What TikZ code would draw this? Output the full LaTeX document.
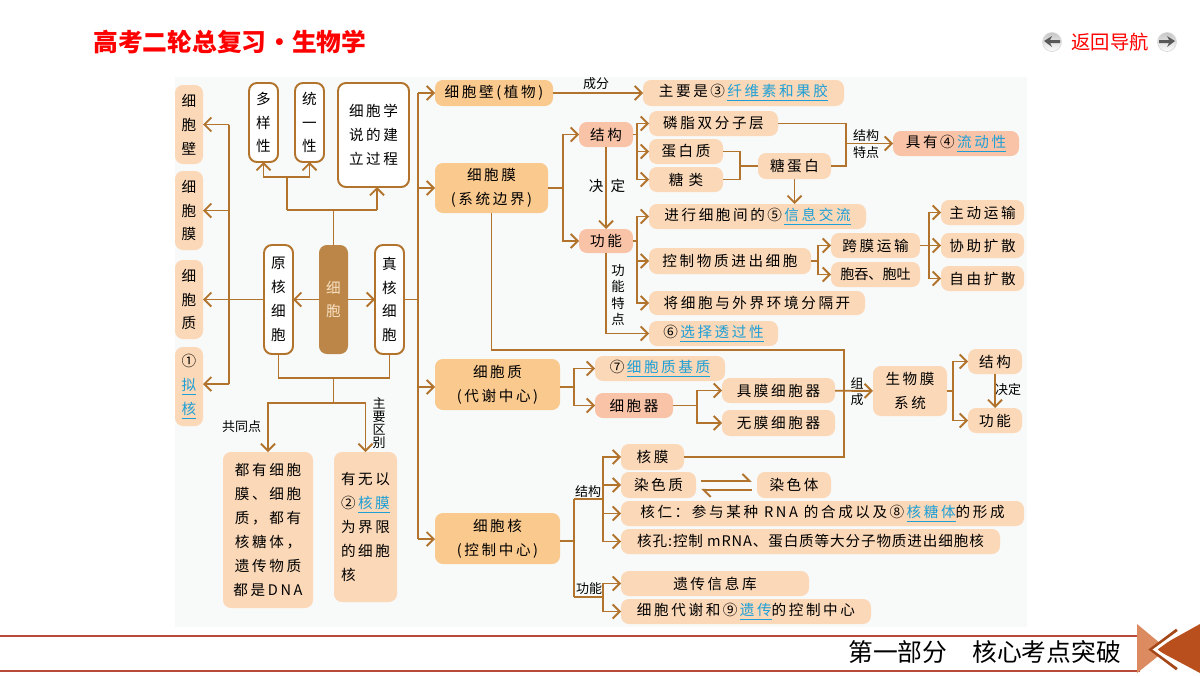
\documentclass[tikz,border=0pt]{standalone}
\usepackage{fontspec}
\usepackage{xcolor}
\setmainfont[LetterSpace=18]{Noto Sans CJK SC}
\newfontfamily\tightfont[LetterSpace=6]{Noto Sans CJK SC}
\newfontfamily\labelfont{Noto Sans CJK SC}
\usetikzlibrary{arrows.meta,positioning}
\definecolor{pagetint}{HTML}{F8FAFA}
\definecolor{linebrown}{HTML}{B2742C}
\definecolor{palepeach}{HTML}{FAD8B8}
\definecolor{midpeach}{HTML}{FAC98E}
\definecolor{salmon}{HTML}{F9C3A8}
\definecolor{cellbrown}{HTML}{BC8648}
\definecolor{celltext}{HTML}{F7E0C2}
\definecolor{ansblue}{HTML}{1E9FD6}
\definecolor{framered}{HTML}{B84A3A}
\definecolor{lightwedge}{HTML}{DC8A60}
\definecolor{darkwedge}{HTML}{B84F1C}
\newcommand{\ans}[1]{\textcolor{ansblue}{\underline{#1}}}
\tikzset{
  sz/.style 2 args={minimum width=#1*0.02cm,minimum height=#2*0.02cm},
  box node/.style={rectangle,rounded corners=4.5pt,inner sep=0pt,outer sep=0pt,align=center,
    font=\fontsize{8.3pt}{13.6pt}\selectfont},
  pale node/.style={box node,fill=palepeach},
  mid node/.style={box node,fill=midpeach},
  hot node/.style={box node,fill=salmon},
  white node/.style={box node,fill=white,draw=linebrown,line width=1.1pt},
  label node/.style={inner sep=0pt,align=center,font=\labelfont\fontsize{7.4pt}{9pt}\selectfont},
  stack node/.style={inner sep=0pt,align=center,font=\labelfont\setlength{\lineskiplimit}{-5pt}\fontsize{7.4pt}{7.3pt}\selectfont},
  nav button/.style={circle,minimum size=0.38cm,inner sep=0pt,draw=gray!30,top color=gray!45,bottom color=white},
  link/.style={draw=linebrown,line width=1.1pt},
  link arrow/.style={link,->},
}
\begin{document}
\begin{tikzpicture}[x=0.02cm,y=-0.02cm,>={Straight Barb[length=4pt,width=8pt]}]
          \useasboundingbox (0,0) rectangle (1200,676);
          \fill[pagetint] (175,77) rectangle (1027,627);
          \node[anchor=west,inner sep=0pt,text=red,font=\labelfont\bfseries\fontsize{14.1pt}{16pt}\selectfont] at (93,42) (title) {高考二轮总复习\makebox[14.4pt]{•}生物学};
          \node[inner sep=0pt,text=red,font=\labelfont\fontsize{11pt}{13pt}\selectfont] at (1110,42) (nav) {返回导航};
          \node[nav button] at (1052,42) (back) {};
          \node[nav button] at (1167,42) (forward) {};
          \fill[black!65] (1044,41) -- (1052,36) -- (1050,40) -- (1060,40) -- (1060,43) -- (1050,43) -- (1052,47) -- cycle;
          \fill[black!65] (1175,41) -- (1167,36) -- (1169,40) -- (1159,40) -- (1159,43) -- (1169,43) -- (1167,47) -- cycle;
          \draw[framered,line width=1.1pt] (0,636) -- (1140,636);
          \draw[framered,line width=1.1pt] (0,671) -- (1140,671);
          \node[anchor=west,inner sep=0pt,font=\labelfont\fontsize{14.1pt}{16pt}\selectfont] at (848,652) (part) {第一部分　核心考点突破};
          \fill[lightwedge] (1137,624) -- (1167,649) -- (1137,673) -- cycle;
          \fill[darkwedge] (1200,624) -- (1155,649) -- (1200,673) -- cycle;
          \draw[black!10!darkwedge,line width=1.8pt] (1177,630) -- (1151,649.5) -- (1177,669);
          \draw[white,line width=1.6pt] (1179,632) -- (1155,649.5) -- (1179,667);
          \node[pale node,sz={28}{79}] at (189,124.5) (lw) {细\\胞\\壁};
          \node[pale node,sz={28}{79}] at (189,210.5) (lm) {细\\胞\\膜};
          \node[pale node,sz={28}{79}] at (189,299.5) (lc) {细\\胞\\质};
          \node[pale node,sz={28}{79}] at (189,386.5) (ln) {①\\\ans{拟}\\\ans{核}};
          \node[white node,sz={29}{79}] at (263.5,122.5) (div) {多\\样\\性};
          \node[white node,sz={29}{79}] at (309.5,122.5) (uni) {统\\一\\性};
          \node[white node,sz={71}{104}] at (373.5,135) (theory) {细胞学\\说的建\\立过程};
          \node[white node,sz={29}{109}] at (278.5,299.5) (prok) {原\\核\\细\\胞};
          \node[box node,fill=cellbrown,text=celltext,sz={29}{109}] at (333.5,299.5) (cell) {细\\胞};
          \node[white node,sz={29}{109}] at (389.5,299.5) (euk) {真\\核\\细\\胞};
          \node[pale node,sz={90}{156}] at (268,530) (common) {都有细胞\\膜、细胞\\质，都有\\核糖体，\\遗传物质\\都是DNA};
          \node[pale node,sz={63}{150},align=left] at (365.5,527) (diff) {有无以\\②\,\ans{核膜}\\为界限\\的细胞\\核};
          \node[label node] at (241.5,427) (commonlab) {共同点};
          \node[stack node] at (379,423) (difflab) {主\\要\\区\\别};
          \node[mid node,sz={118}{26}] at (494,93) (wall) {细胞壁(植物)};
          \node[mid node,sz={113}{50}] at (491.5,188) (memb) {细胞膜\\(系统边界)};
          \node[mid node,sz={125}{51}] at (497.5,384.5) (cyto) {细胞质\\(代谢中心)};
          \node[mid node,sz={125}{51}] at (497.5,538.5) (nucl) {细胞核\\(控制中心)};
          \node[pale node,sz={201}{26}] at (743.5,93) (comp) {主要是\,③\,\ans{纤维素和果胶}};
          \node[label node] at (596,84) (complab) {成分};
          \node[hot node,sz={54}{25}] at (606,134.5) (stru) {结构};
          \node[hot node,sz={54}{24}] at (606,241) (func) {功能};
          \node[box node,fill=none] at (607,186) (declab) {决\hspace{4pt}定};
          \node[pale node,sz={129}{25}] at (713.5,123.5) (lip) {磷脂双分子层};
          \node[pale node,sz={74}{25}] at (686,151.5) (pro) {蛋白质};
          \node[pale node,sz={74}{25}] at (686,179.5) (sug) {糖\hspace{3pt}类};
          \node[pale node,sz={73}{26}] at (794.5,166) (glyc) {糖蛋白};
          \node[hot node,sz={126}{25}] at (956,143.5) (fluid) {具有\,④\,\ans{流动性}};
          \node[label node,font=\labelfont\fontsize{7.4pt}{9.2pt}\selectfont] at (866,144) (fluidlab) {结构\\特点};
          \node[pale node,sz={217}{25}] at (757.5,216.5) (info) {进行细胞间的\,⑤\,\ans{信息交流}};
          \node[pale node,sz={162}{26}] at (730,261) (ctrl) {控制物质进出细胞};
          \node[pale node,sz={216}{24}] at (757,303) (sep) {将细胞与外界环境分隔开};
          \node[pale node,sz={129}{25}] at (713.5,333.5) (sel) {⑥\,\ans{选择透过性}};
          \node[label node,font=\labelfont\fontsize{7.6pt}{9.2pt}\selectfont] at (618,295) (sellab) {功\\能\\特\\点};
          \node[pale node,sz={89}{25}] at (875.5,245.5) (trans) {跨膜运输};
          \node[pale node,sz={89}{25},font=\labelfont\fontsize{8pt}{9pt}\selectfont] at (875.5,274.5) (endo) {胞吞、胞吐};
          \node[pale node,sz={83}{25}] at (982.5,212.5) (act) {主动运输};
          \node[pale node,sz={83}{25}] at (982.5,245.5) (fac) {协助扩散};
          \node[pale node,sz={83}{25}] at (982.5,278.5) (free) {自由扩散};
          \node[pale node,sz={130}{25}] at (660,368.5) (matrix) {⑦\,\ans{细胞质基质}};
          \node[hot node,sz={78}{25}] at (634,405.5) (org) {细胞器};
          \node[pale node,sz={113}{25}] at (778.5,390.5) (mo) {具膜细胞器};
          \node[pale node,sz={113}{26}] at (778.5,423) (nmo) {无膜细胞器};
          \node[label node,font=\labelfont\fontsize{7.4pt}{9.2pt}\selectfont] at (857,392) (biolab) {组\\成};
          \node[pale node,sz={74}{50}] at (910,391) (bio) {生物膜\\系统};
          \node[pale node,sz={54}{25}] at (995,361.5) (bs) {结构};
          \node[pale node,sz={54}{25}] at (995,420.5) (bf) {功能};
          \node[label node] at (1008,390) (bdlab) {决定};
          \node[pale node,sz={63}{26}] at (652.5,457) (nm) {核膜};
          \node[pale node,sz={75}{26}] at (658.5,485) (chrm) {染色质};
          \node[pale node,sz={74}{26}] at (794,485) (chrs) {染色体};
          \node[pale node,sz={403}{25}] at (822.5,513.5) (nucleolus) {核仁：参与某种 RNA 的合成以及\,⑧\,\ans{核糖体}的形成};
          \node[pale node,sz={379}{25},font=\tightfont\fontsize{8.3pt}{13.6pt}\selectfont] at (810.5,541.5) (pore) {核孔:控制 mRNA、蛋白质等大分子物质进出细胞核};
          \node[pale node,sz={188}{25}] at (715,583.5) (lib) {遗传信息库};
          \node[pale node,sz={250}{25}] at (746,611.5) (ctl) {细胞代谢和\,⑨\,\ans{遗传}的控制中心};
          \node[label node] at (588,492) (strlab) {结构};
          \node[label node] at (589,589) (funlab) {功能};
          \coordinate (up) at (333.5,210);
          \coordinate (upl) at (287,210);
          \coordinate (upr) at (377,210);
          \coordinate (ups) at (287,177);
          \draw[link] (cell) -- (up);
          \draw[link] (upl) -- (upr);
          \draw[link] (upl) -- (ups);
          \draw[link arrow] (upr) -- (theory.south -| upr);
          \draw[link arrow] (ups) -| (div);
          \draw[link arrow] (ups) -| (uni);
          \draw[link arrow] (cell) -- (prok);
          \draw[link arrow] (cell) -- (euk);
          \coordinate (bust) at (229,124.5);
          \coordinate (busm) at (229,210.5);
          \coordinate (busb) at (229,384);
          \draw[link] (bust) -- (busb);
          \draw[link arrow] (bust) -- (lw);
          \draw[link arrow] (busm) -- (lm);
          \draw[link arrow] (prok) -- (lc);
          \draw[link arrow] (busb) -- (ln.east |- busb);
          \coordinate (bm) at (333.5,378);
          \coordinate (bc) at (333.5,403);
          \draw[link] (prok) |- (bm) -| (euk);
          \draw[link] (bm) -- (bc);
          \draw[link arrow] (bc) -| (common);
          \draw[link arrow] (bc) -| (diff);
          \coordinate (bus0) at (418,299.5);
          \coordinate (bus1) at (418,93);
          \coordinate (bus2) at (418,188);
          \coordinate (bus3) at (418,387);
          \coordinate (bus4) at (418,539);
          \draw[link] (euk) -- (bus0);
          \draw[link] (bus1) -- (bus4);
          \draw[link arrow] (bus1) -- (wall);
          \draw[link arrow] (bus2) -- (memb);
          \draw[link arrow] (bus3) -- (cyto.west |- bus3);
          \draw[link arrow] (bus4) -- (nucl.west |- bus4);
          \draw[link arrow] (wall) -- (comp);
          \coordinate (jm) at (563,188);
          \draw[link] (memb) -- (jm);
          \draw[link arrow] (jm) |- (stru);
          \draw[link arrow] (jm) |- (func);
          \draw[link arrow] (stru) -- (func);
          \coordinate (js) at (637,134.5);
          \draw[link] (stru) -- (js);
          \draw[link arrow] (js) |- (lip);
          \draw[link arrow] (js) |- (pro);
          \draw[link arrow] (js) |- (sug);
          \coordinate (jg) at (740,166);
          \draw[link] (pro) -| (jg);
          \draw[link] (sug) -| (jg);
          \draw[link] (jg) -- (glyc);
          \coordinate (jf) at (846,143.5);
          \draw[link] (lip) -| (jf);
          \draw[link] (glyc) -| (jf);
          \draw[link arrow] (jf) -- (fluid);
          \draw[link arrow] (glyc) -- (info.north -| glyc);
          \coordinate (jk) at (637,241);
          \draw[link] (func) -- (jk);
          \draw[link arrow] (jk) |- (info);
          \draw[link arrow] (jk) |- (ctrl);
          \draw[link arrow] (jk) |- (sep);
          \draw[link arrow] (func) |- (sel);
          \coordinate (jc) at (818,261);
          \draw[link] (ctrl) -- (jc);
          \draw[link arrow] (jc) |- (trans);
          \draw[link arrow] (jc) |- (endo);
          \coordinate (jt) at (929,245.5);
          \draw[link arrow] (trans) -- (fac);
          \draw[link arrow] (jt) |- (act);
          \draw[link arrow] (jt) |- (free);
          \coordinate (jb) at (844,350);
          \draw[link] (memb) |- (jb) |- (nm);
          \coordinate (jy) at (574,387);
          \draw[link] (cyto.east |- jy) -- (jy);
          \draw[link arrow] (jy) |- (matrix);
          \draw[link arrow] (jy) |- (org);
          \coordinate (jo) at (697,405.5);
          \draw[link] (org) -- (jo);
          \draw[link arrow] (jo) |- (mo);
          \draw[link arrow] (jo) |- (nmo);
          \draw[link arrow] (mo) -- (bio);
          \coordinate (jr) at (953,391);
          \draw[link] (bio) -- (jr);
          \draw[link arrow] (jr) |- (bs);
          \draw[link arrow] (jr) |- (bf);
          \draw[link arrow] (bs) -- (bf);
          \coordinate (jn) at (574,541);
          \coordinate (jn1) at (574,499);
          \coordinate (jn2) at (574,597);
          \coordinate (jn3) at (603,499);
          \coordinate (jn4) at (603,597);
          \draw[link] (nucl.east |- jn) -- (jn);
          \draw[link] (jn1) -- (jn2);
          \draw[link] (jn1) -- (jn3);
          \draw[link] (jn2) -- (jn4);
          \draw[link arrow] (jn3) |- (nm);
          \draw[link arrow] (jn3) |- (chrm);
          \draw[link arrow] (jn3) |- (nucleolus);
          \draw[link arrow] (jn3) |- (pore);
          \draw[link arrow] (jn4) |- (lib);
          \draw[link arrow] (jn4) |- (ctl);
          \draw[link,-{Straight Barb[length=4pt,width=8pt,harpoon]},shorten <=3pt,shorten >=3pt] ([yshift=2.3pt]chrm.east) -- ([yshift=2.3pt]chrs.west);
          \draw[link,-{Straight Barb[length=4pt,width=8pt,harpoon]},shorten <=3pt,shorten >=3pt] ([yshift=-2.8pt]chrs.west) -- ([yshift=-2.8pt]chrm.east);
\end{tikzpicture}
\end{document}
